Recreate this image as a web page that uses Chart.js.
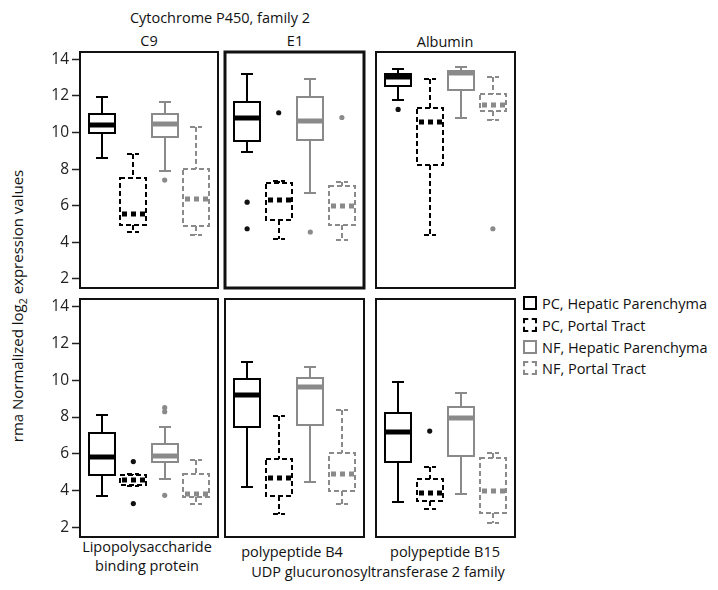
<!DOCTYPE html>
<html>
<head>
<meta charset="utf-8">
<script src="https://cdn.jsdelivr.net/npm/chart.js@4"></script>
<style>
body { margin: 0; background: #fff; }
#fig { position: relative; width: 718px; height: 590px; overflow: hidden; font-family: "Open Sans", sans-serif; color: #111; }
canvas { position: absolute; }
.t { position: absolute; font-size: 14.5px; white-space: nowrap; transform: translate(-50%, -50%); }
.lg { position: absolute; left: 523px; font-size: 14.5px; white-space: nowrap; line-height: 16px; }
.ic { display: inline-block; width: 10px; height: 10px; margin-right: 5px; vertical-align: -1px; }
#ytitle { position: absolute; left: 18px; top: 306px; font-size: 15px; white-space: nowrap; transform: translate(-50%, -50%) rotate(-90deg); }
</style>
</head>
<body>
<div id="fig">
  <div class="t" style="left:220px;top:17px">Cytochrome P450, family 2</div>
  <div class="t" style="left:149px;top:40px">C9</div>
  <div class="t" style="left:295px;top:40px">E1</div>
  <div class="t" style="left:445px;top:41px">Albumin</div>
  <div class="t" style="left:147px;top:546px">Lipopolysaccharide</div>
  <div class="t" style="left:147px;top:565px">binding protein</div>
  <div class="t" style="left:292px;top:551px">polypeptide B4</div>
  <div class="t" style="left:445px;top:551px">polypeptide B15</div>
  <div class="t" style="left:378px;top:571px">UDP glucuronosyltransferase 2 family</div>
  <div id="ytitle">rma Normalized log<sub style="font-size:10.5px">2</sub> expression values</div>
  <div id="legend"></div>
</div>
<script>
// groups in each panel, left to right
const groups = ['PC, Hepatic Parenchyma', 'PC, Portal Tract', 'NF, Hepatic Parenchyma', 'NF, Portal Tract'];
const yTicks = [2, 4, 6, 8, 10, 12, 14];

// [whisker low, q1, median, q3, whisker high] per group
const c9Stats = [[8.6, 9.95, 10.4, 11.0, 11.95], [4.55, 4.97, 5.55, 7.5, 8.85], [7.87, 9.73, 10.45, 11.0, 11.68], [4.42, 4.9, 6.36, 8.0, 10.3]];
const c9Outliers = [[2, 7.4]];
const e1Stats = [[8.93, 9.53, 10.77, 11.64, 13.2], [4.18, 5.19, 6.32, 7.22, 7.35], [6.67, 9.57, 10.62, 11.93, 12.93], [4.14, 4.92, 5.96, 7.08, 7.28]];
const e1Outliers = [[0, 6.19], [0, 4.74], [1, 11.08], [2, 4.56], [3, 10.82]];
const albStats = [[11.8, 12.53, 13.04, 13.22, 13.49], [4.41, 8.23, 10.57, 11.35, 12.95], [10.8, 12.31, 13.27, 13.35, 13.58], [10.68, 11.19, 11.53, 12.09, 13.04]];
const albOutliers = [[0, 11.26], [3, 4.74]];
const lbpStats = [[3.7, 4.88, 5.81, 7.15, 8.11], [4.25, 4.32, 4.57, 4.85, 4.9], [4.65, 5.57, 5.9, 6.53, 7.44], [3.31, 3.67, 3.85, 4.94, 5.66]];
const lbpOutliers = [[1, 5.59], [1, 3.31], [2, 8.51], [2, 8.29], [2, 3.76]];
const b4Stats = [[4.21, 7.44, 9.18, 10.07, 10.97], [2.73, 3.7, 4.7, 5.72, 8.05], [4.47, 7.58, 9.65, 10.14, 10.7], [3.29, 4.0, 4.94, 6.08, 8.38]];
const b4Outliers = [];
const b15Stats = [[3.41, 5.57, 7.17, 8.24, 9.92], [3.03, 3.45, 3.9, 4.67, 5.3], [3.81, 5.88, 7.96, 8.56, 9.32], [2.27, 2.8, 3.99, 5.79, 6.08]];
const b15Outliers = [[1, 7.24]];

const BLACK = '#000';
const GREY = '#8a8a8a';
const PAD = 14;
const AXIS_W = 50;

const boxPlugin = {
  id: 'boxes',
  beforeDatasetsDraw(chart) {
    const { ctx, scales: { x, y } } = chart;
    const opts = chart.options.plugins.boxes;
    ctx.save();
    opts.stats.forEach((s, i) => {
      const cx = Math.round(x.getPixelForValue(i));
      const [lo, q1, med, q3, hi] = s.map(v => Math.round(y.getPixelForValue(v)));
      const dashed = i % 2 === 1;
      const half = 13, cap = 6;
      ctx.strokeStyle = i < 2 ? BLACK : GREY;
      ctx.lineWidth = 2;
      ctx.setLineDash(dashed ? [5, 3] : []);
      ctx.beginPath();
      ctx.moveTo(cx, hi); ctx.lineTo(cx, q3);
      ctx.moveTo(cx, q1); ctx.lineTo(cx, lo);
      ctx.moveTo(cx - cap, hi); ctx.lineTo(cx + cap, hi);
      ctx.moveTo(cx - cap, lo); ctx.lineTo(cx + cap, lo);
      ctx.stroke();
      ctx.fillStyle = '#fff';
      ctx.fillRect(cx - half, q3, half * 2, q1 - q3);
      ctx.strokeRect(cx - half, q3, half * 2, q1 - q3);
      ctx.lineWidth = 5;
      ctx.setLineDash(dashed ? [5, 4] : []);
      ctx.beginPath();
      ctx.moveTo(cx - half + (dashed ? 2 : 0), med);
      ctx.lineTo(cx + half, med);
      ctx.stroke();
    });
    ctx.restore();
  },
  afterDraw(chart) {
    const { ctx, chartArea: a } = chart;
    const w = chart.options.plugins.boxes.frame;
    ctx.save();
    ctx.strokeStyle = '#111';
    ctx.lineWidth = w;
    ctx.strokeRect(a.left, a.top, a.right - a.left, a.bottom - a.top);
    ctx.restore();
  }
};

function makePanel(stats, outliers, left, top, w, h, showY, frame) {
  const cv = document.createElement('canvas');
  const cw = w + PAD + (showY ? AXIS_W : PAD);
  const ch = h + PAD * 2;
  cv.width = cw; cv.height = ch;
  cv.style.left = (left - (showY ? AXIS_W : PAD)) + 'px';
  cv.style.top = (top - PAD) + 'px';
  document.getElementById('fig').appendChild(cv);
  new Chart(cv, {
    type: 'scatter',
    data: {
      datasets: [{
        data: outliers.map(([g, v]) => ({ x: g, y: v })),
        pointRadius: 2.6,
        pointBorderWidth: 0,
        pointBackgroundColor: outliers.map(([g]) => g < 2 ? '#111' : GREY)
      }]
    },
    options: {
      responsive: false,
      animation: false,
      layout: { padding: { left: showY ? 0 : PAD, right: PAD, top: PAD, bottom: PAD } },
      plugins: { legend: { display: false }, tooltip: { enabled: false }, boxes: { stats, frame } },
      scales: {
        x: { type: 'linear', min: -0.7, max: 3.7, display: false },
        y: {
          type: 'linear', min: 1.5, max: 14.4, display: showY,
          afterBuildTicks: s => { s.ticks = yTicks.map(v => ({ value: v })); },
          afterFit: s => { s.width = showY ? AXIS_W : 0; },
          border: { display: false },
          grid: { drawOnChartArea: false, drawTicks: true, tickLength: 8, tickWidth: 1.5, color: '#222' },
          ticks: { padding: 3, color: '#222', font: { family: 'Open Sans', size: 15.5 } }
        }
      }
    },
    plugins: [boxPlugin]
  });
}

makePanel(c9Stats, c9Outliers, 80, 52, 138, 236, true, 2);
makePanel(e1Stats, e1Outliers, 225, 52, 139, 236, false, 3);
makePanel(albStats, albOutliers, 376, 52, 139, 236, false, 2);
makePanel(lbpStats, lbpOutliers, 80, 299, 138, 238, true, 2);
makePanel(b4Stats, b4Outliers, 225, 299, 139, 238, false, 2);
makePanel(b15Stats, b15Outliers, 376, 299, 139, 238, false, 2);

// legend
const legendTops = [296, 318, 340, 361];
const legend = document.getElementById('legend');
groups.forEach((g, i) => {
  const d = document.createElement('div');
  d.className = 'lg';
  d.style.top = legendTops[i] + 'px';
  const border = (i % 2 ? 'dashed ' : 'solid ') + (i < 2 ? BLACK : GREY);
  d.innerHTML = '<span class="ic" style="border:2px ' + border + '"></span>' + g;
  legend.appendChild(d);
});
</script>
</body>
</html>
